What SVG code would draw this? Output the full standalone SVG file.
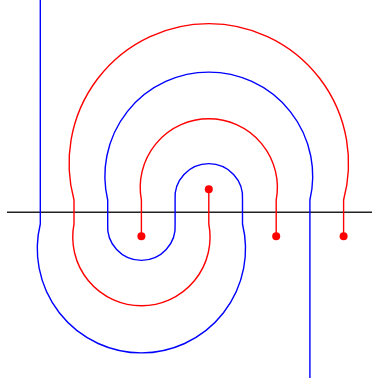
<svg xmlns="http://www.w3.org/2000/svg" width="372" height="378" viewBox="0 0 372 378">
<style>
.blue{fill:none;stroke:#0000ff;stroke-width:1.4}
.red{fill:none;stroke:#ff0000;stroke-width:1.4}
.axis{fill:none;stroke:#222;stroke-width:1.5}
.dot{fill:#ff0000}
</style>
<rect width="372" height="378" fill="#fff"/>
<g id="connectors">
<path id="axis" class="axis" d="M7,212.3 H372"/>
<path id="blue-curve" class="blue" d="M40.3,0 V224 A104.1,104.1 0 1 0 242.5,224 V200 A33.8,33.8 0 1 0 175.1,200 V224 A33.8,33.8 0 1 1 107.7,224 V200 A103.9,103.9 0 1 1 309.9,200 V378"/>
<path id="red-curve-1" class="red" d="M208.8,189.3 V224 A68.66,68.66 0 1 1 74,224 V200 A139.7,139.7 0 1 1 343.6,200 V236.3"/>
<path id="red-curve-2" class="red" d="M141.4,236.3 V200 A68.57,68.57 0 1 1 276.2,200 V236.3"/>
</g>
<g id="dot-1"><circle class="dot" cx="141.4" cy="236.3" r="4"/></g>
<g id="dot-2"><circle class="dot" cx="208.8" cy="189.3" r="4"/></g>
<g id="dot-3"><circle class="dot" cx="276.2" cy="236.3" r="4"/></g>
<g id="dot-4"><circle class="dot" cx="343.6" cy="236.3" r="4"/></g>
</svg>
